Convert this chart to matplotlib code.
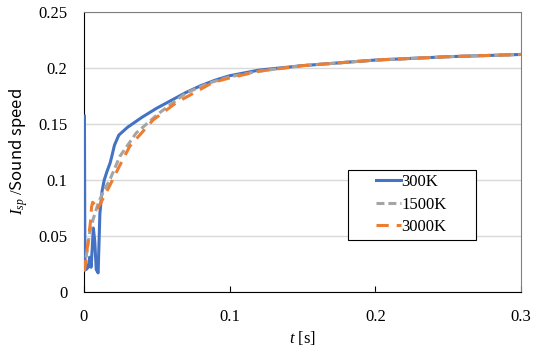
import matplotlib
matplotlib.use('Agg')
import matplotlib.pyplot as plt
from matplotlib.patches import Rectangle

plt.rcParams['font.family'] = ['Liberation Serif', 'DejaVu Serif']
plt.rcParams['mathtext.fontset'] = 'custom'
plt.rcParams['mathtext.rm'] = 'Liberation Serif'
plt.rcParams['mathtext.it'] = 'Liberation Serif:italic'
plt.rcParams['mathtext.sf'] = 'Noto Sans CJK JP'
plt.rcParams['font.size'] = 12

# values
t_300 = [0.0004, 0.0007, 0.0015, 0.003, 0.004, 0.005, 0.0065, 0.0075, 0.0085, 0.0098,
         0.011, 0.0125, 0.014, 0.016, 0.018, 0.019, 0.021, 0.024, 0.03, 0.04,
         0.05, 0.06, 0.07, 0.08, 0.09, 0.1, 0.12, 0.15, 0.2, 0.25, 0.3]
v_300 = [0.157, 0.03, 0.02, 0.022, 0.031, 0.022, 0.057, 0.045, 0.02, 0.017,
         0.07, 0.09, 0.1, 0.108, 0.115, 0.12, 0.131, 0.140, 0.147, 0.156,
         0.164, 0.171, 0.178, 0.184, 0.189, 0.193, 0.198, 0.202, 0.207, 0.210, 0.212]

t_1500 = [0.0003, 0.002, 0.004, 0.0064, 0.0098, 0.0135, 0.0178, 0.0247, 0.036, 0.052,
          0.07, 0.086, 0.1, 0.12, 0.15, 0.2, 0.25, 0.3]
v_1500 = [0.02, 0.035, 0.053, 0.065, 0.079, 0.09, 0.10, 0.121, 0.142, 0.160,
          0.1775, 0.1865, 0.192, 0.197, 0.202, 0.207, 0.210, 0.212]

t_3000 = [0.0003, 0.0015, 0.003, 0.0045, 0.0053, 0.006, 0.0075, 0.0087, 0.011, 0.0178,
          0.0247, 0.0315, 0.0475, 0.0635, 0.0885, 0.1, 0.12, 0.15, 0.2, 0.25, 0.3]
v_3000 = [0.018, 0.03, 0.046, 0.062, 0.076, 0.08, 0.078, 0.073, 0.078, 0.095,
          0.113, 0.13, 0.1535, 0.169, 0.187, 0.191, 0.197, 0.202, 0.207, 0.210, 0.212]

fig = plt.figure(figsize=(5.41, 3.5), dpi=100)
ax = fig.add_axes([0.155, 0.166, 0.808, 0.80])

ax.plot(t_300, v_300, color='#4472C4', lw=2.2, label='300K', zorder=3)
ax.plot(t_1500, v_1500, color='#A5A5A5', lw=2.2, dashes=(2.6, 1.3), label='1500K', zorder=4)
ax.plot(t_3000, v_3000, color='#ED7D31', lw=2.2, dashes=(4.0, 2.6), label='3000K', zorder=5)

ax.set_xlim(0, 0.3)
ax.set_ylim(0, 0.25)
ax.set_xticks([0, 0.1, 0.2, 0.3])
ax.set_xticklabels(['0', '0.1', '0.2', '0.3'])
ax.set_yticks([0, 0.05, 0.1, 0.15, 0.2, 0.25])
ax.set_yticklabels(['0', '0.05', '0.1', '0.15', '0.2', '0.25'])
ax.tick_params(axis='x', direction='in', length=4, pad=12, color='black')
ax.tick_params(axis='y', length=0, pad=12)
ax.yaxis.grid(True, color='#D9D9D9', lw=1)
ax.set_axisbelow(True)

for s in ['left', 'bottom']:
    ax.spines[s].set_color('black')
for s in ['top', 'right']:
    ax.spines[s].set_color('#808080')

ax.set_xlabel('$t$ [s]', labelpad=3)
ax.set_ylabel(r'$I_{sp}\ /\mathsf{Sound\ speed}$', labelpad=6)

# legend box (Excel style, wide padding left/right)
ax.add_patch(Rectangle((0.605, 0.186), 0.292, 0.25, transform=ax.transAxes,
                       facecolor='white', edgecolor='black', lw=0.8, zorder=6))
leg = ax.legend(loc='upper left', bbox_to_anchor=(0.669, 0.42), frameon=False,
                handlelength=1.5, handletextpad=0.0, borderpad=0, borderaxespad=0,
                labelspacing=0.38)
leg.set_zorder(7)

fig.savefig('out.png', dpi=100)
